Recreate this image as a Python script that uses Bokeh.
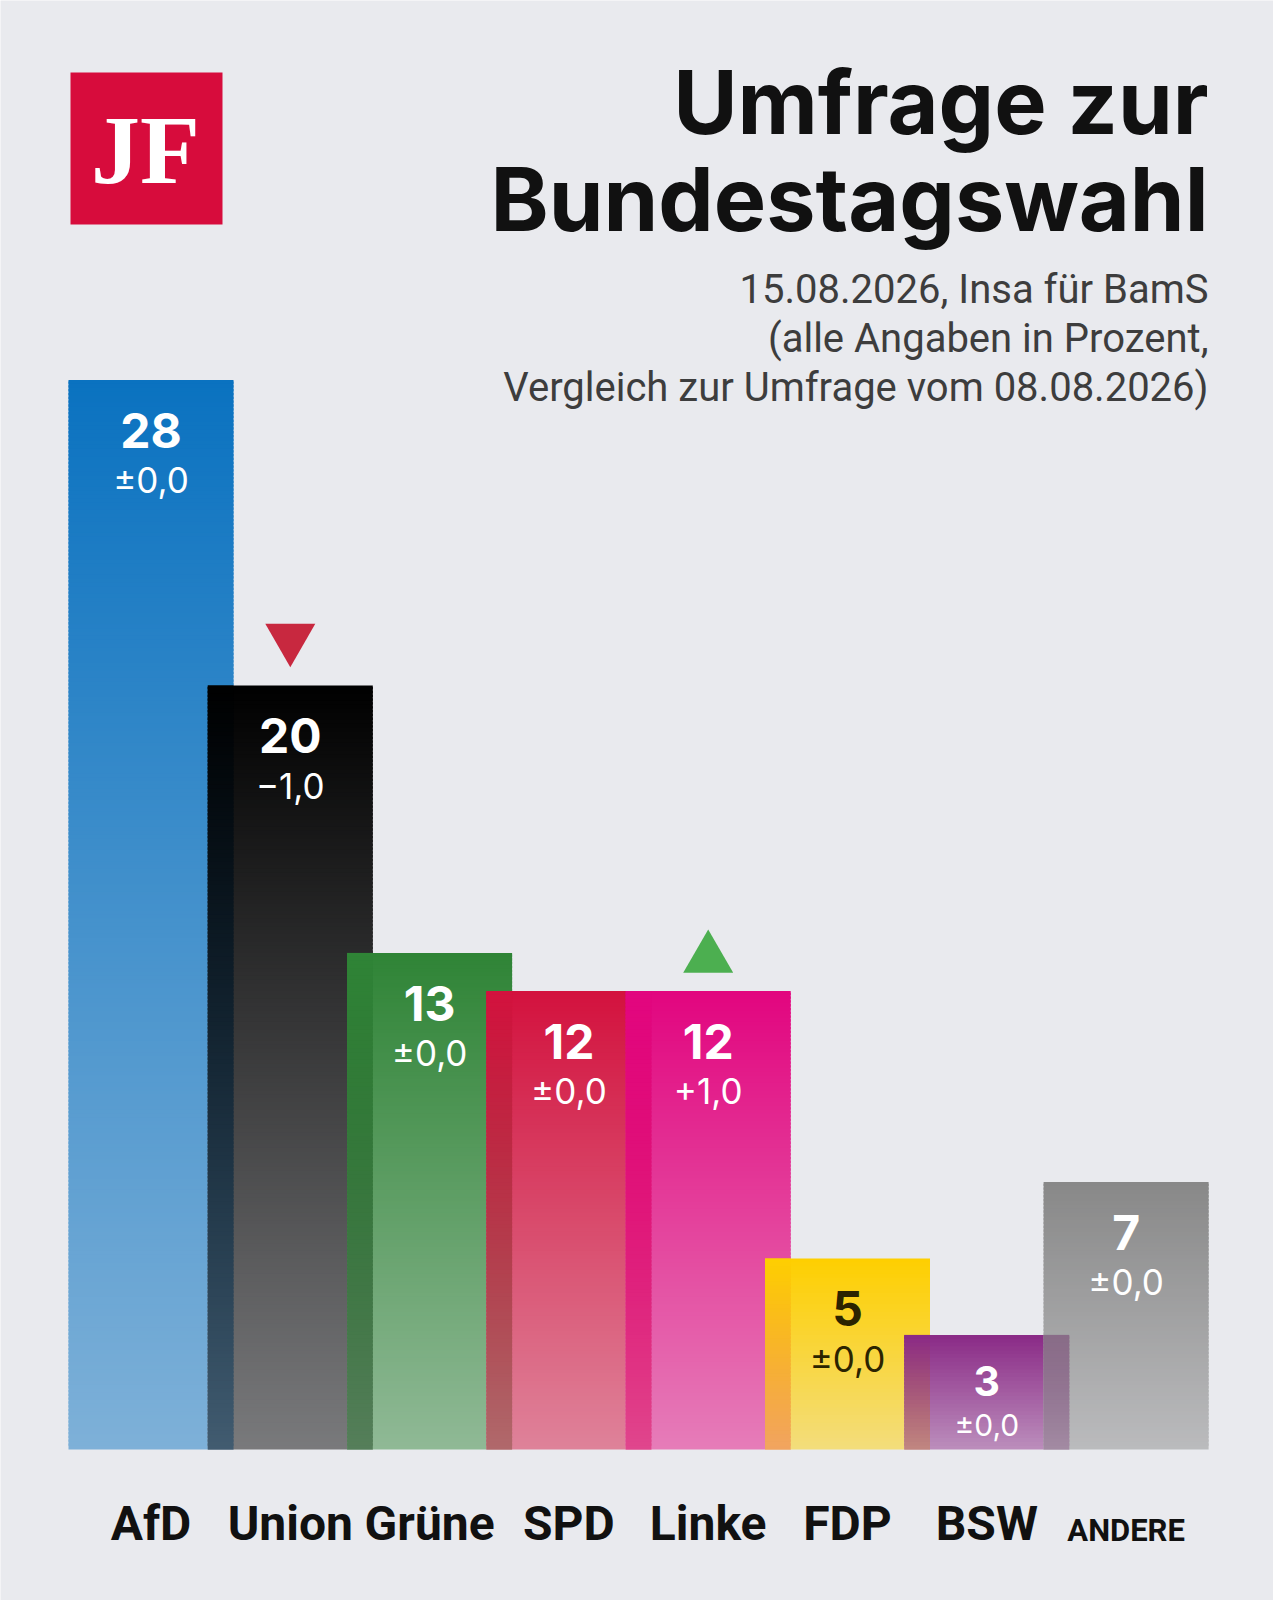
import numpy as np
from bokeh.plotting import figure
from bokeh.models import Range1d, ColumnDataSource
from bokeh.core.properties import value
from bokeh.embed import file_html
from bokeh.resources import INLINE

# ---------------- data ----------------
parties = ["AfD", "Union", "Grüne", "SPD", "Linke", "FDP", "BSW", "ANDERE"]
values = [28, 20, 13, 12, 12, 5, 3, 7]
changes = [0.0, -1.0, 0.0, 0.0, 1.0, 0.0, 0.0, 0.0]
bar_colors = ["#0a72c0", "#000000", "#2f8436", "#d3123e", "#e2067f", "#fecf00", "#8a2a86", "#888888"]
label_colors = ["white", "white", "white", "white", "white", "#2b2400", "white", "white"]
title_lines = ["Umfrage zur", "Bundestagswahl"]
subtitle_lines = ["15.08.2026, Insa für BamS", "(alle Angaben in Prozent,", "Vergleich zur Umfrage vom 08.08.2026)"]

# ---------------- geometry ----------------
BG = "#e9eaee"
W, H = 1273, 1600
PPX = 139.3          # pixels per category step
PPY = 38.2           # pixels per percent
x0 = -150.5 / PPX
x1 = x0 + W / PPX
y1 = 1449 / PPY
y0 = y1 - H / PPY
BAR_W = 165 / PPX
BASE_FIX = 0.39      # svg alphabetic-baseline correction (fraction of font size)


def X(px):
    return x0 + px / PPX


def Y(px):
    return y1 - px / PPY


def dy(px):
    return px / PPY


def fix(size):
    return dy(BASE_FIX * size)


p = figure(width=W, height=H, output_backend="svg", toolbar_location=None,
           x_range=Range1d(x0, x1), y_range=Range1d(y0, y1),
           x_axis_type=None, y_axis_type=None, min_border=0,
           background_fill_color=BG, border_fill_color=BG, outline_line_color=None)
p.xgrid.visible = False
p.ygrid.visible = False


# ---------------- bars: composited vertical alpha gradient ----------------
def rgb(h):
    h = h.lstrip("#")
    return np.array([int(h[k:k + 2], 16) for k in (0, 2, 4)], dtype=float) / 255.0


def tohex(c):
    c = np.clip(np.round(c * 255), 0, 255).astype(int)
    return "#%02x%02x%02x" % tuple(c)


bg = rgb(BG)
A_BOTTOM = 0.48


def alpha(i, y):
    return A_BOTTOM + (1 - A_BOTTOM) * y / values[i]


def bar_col(i, y):
    a = alpha(i, y)
    return a * rgb(bar_colors[i]) + (1 - a) * bg


def strip_col(i, y):
    a = alpha(i, y)
    return a * rgb(bar_colors[i]) + (1 - a) * bar_col(i - 1, y)


left, right, bottom, top, fc = [], [], [], [], []
STEP = 0.1
EXT = 0.06


def add_slices(i, lft, rgt, hgt, colfun):
    n = max(int(round(hgt / STEP)), 1)
    edges = np.linspace(0, hgt, n + 1)
    for k in range(n):
        b, t = edges[k], edges[k + 1]
        left.append(lft)
        right.append(rgt)
        bottom.append(b)
        top.append(t + (0.0 if k == n - 1 else EXT))
        fc.append(tohex(colfun(i, 0.5 * (b + t))))


for i, v in enumerate(values):
    add_slices(i, i - BAR_W / 2, i + BAR_W / 2, v, bar_col)
    if i > 0:
        add_slices(i, i - BAR_W / 2, (i - 1) + BAR_W / 2, min(v, values[i - 1]), strip_col)

p.quad(left="left", right="right", bottom="bottom", top="top",
       fill_color="fc", line_color=None,
       source=ColumnDataSource(dict(left=left, right=right, bottom=bottom, top=top, fc=fc)))


# ---------------- value + change labels ----------------
def fmt(ch):
    if ch == 0:
        return "±0,0"
    s = f"{abs(ch):.1f}".replace(".", ",")
    return ("+" if ch > 0 else "−") + s


for i, (v, ch, lc) in enumerate(zip(values, changes, label_colors)):
    small = v * PPY < 150
    sc = 0.86 if small else 1.0
    s1, s2 = 48 * sc, 35 * sc
    p.text(x=[i], y=[v - dy(69 * (0.9 if small else 1.0)) + fix(s1)], text=[str(v)],
           text_font=value("Inter"), text_font_style="bold",
           text_font_size=f"{s1:.0f}px", text_color=lc,
           text_align="center", text_baseline="alphabetic")
    p.text(x=[i], y=[v - dy(114 * (0.89 if small else 1.0)) + fix(s2)], text=[fmt(ch)],
           text_font=value("Inter"), text_font_size=f"{s2:.0f}px", text_color=lc,
           text_align="center", text_baseline="alphabetic")

# ---------------- change triangles ----------------
TRI = 50
h_tri = TRI * np.sqrt(3) / 2
up_x = [i for i, ch in enumerate(changes) if ch > 0]
up_y = [values[i] + dy(40 - h_tri / 6) for i in up_x]
dn_x = [i for i, ch in enumerate(changes) if ch < 0]
dn_y = [values[i] + dy(40 + h_tri / 6) for i in dn_x]
p.scatter(x=up_x, y=up_y, marker="triangle", size=TRI, fill_color="#4caf50", line_color=None)
p.scatter(x=dn_x, y=dn_y, marker="inverted_triangle", size=TRI, fill_color="#c8283f", line_color=None)

# ---------------- category labels ----------------
big = [i for i, n in enumerate(parties) if n != "ANDERE"]
p.text(x=big, y=[-dy(93) + fix(48)] * len(big), text=[parties[i] for i in big],
       text_font=value("Roboto"), text_font_style="bold", text_font_size="48px",
       text_color="#111111", text_align="center", text_baseline="alphabetic")
sm = [i for i, n in enumerate(parties) if n == "ANDERE"]
p.text(x=sm, y=[-dy(93) + fix(31)] * len(sm), text=[parties[i] for i in sm],
       text_font=value("Roboto"), text_font_style="bold", text_font_size="31px",
       text_color="#111111", text_align="center", text_baseline="alphabetic")

# ---------------- title & subtitle ----------------
p.text(x=[X(1208)] * 2, y=[Y(136) + fix(88), Y(233) + fix(88)], text=title_lines,
       text_font=value("Inter"), text_font_style="bold", text_font_size="88px",
       text_color="#111111", text_align="right", text_baseline="alphabetic")
p.text(x=[X(1208)] * 3, y=[Y(305) + fix(40), Y(354) + fix(40), Y(403) + fix(40)], text=subtitle_lines,
       text_font=value("Roboto"), text_font_size="40px",
       text_color="#3d3d3d", text_align="right", text_baseline="alphabetic")

# ---------------- logo ----------------
p.quad(left=[X(70)], right=[X(222)], top=[Y(72)], bottom=[Y(224)],
       fill_color="#d70c3c", line_color=None)
p.text(x=[X(145)], y=[Y(188) + fix(98)], text=["JF"], text_font=value("serif"),
       text_font_style="bold", text_font_size="98px", text_color="white",
       text_align="center", text_baseline="alphabetic")

open("out.html", "w").write(file_html(p, INLINE))
